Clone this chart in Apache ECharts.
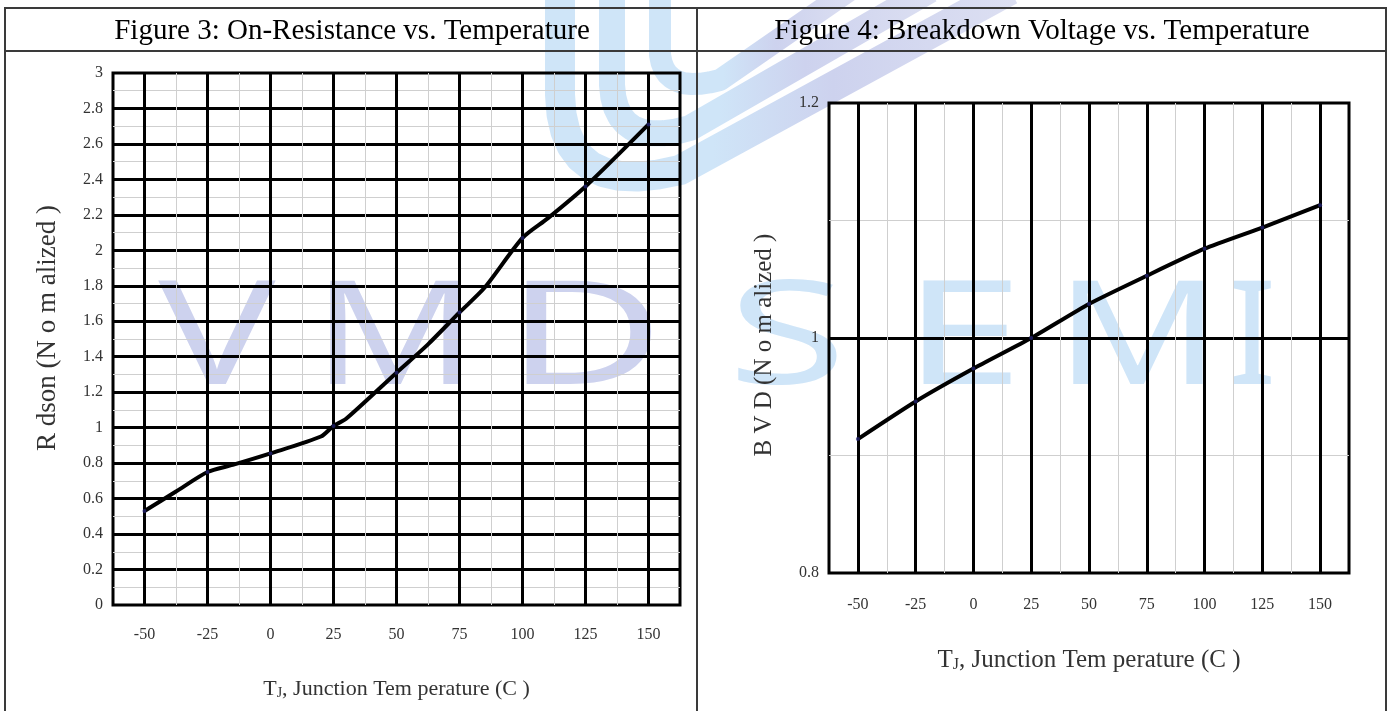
<!DOCTYPE html>
<html>
<head>
<meta charset="utf-8">
<script src="https://cdn.jsdelivr.net/npm/echarts@6/dist/echarts.min.js"></script>
<style>
  html,body{margin:0;padding:0;background:#fff;}
  #main{width:1391px;height:711px;}
</style>
</head>
<body>
<div id="main"></div>
<script>
  // tick labels on the temperature axis
  var tempTicks = [-50, -25, 0, 25, 50, 75, 100, 125, 150];
  // figure 3 : Rdson (normalized)
  var rdsonTemp = [-50, -37.5, -25, -15, 0, 20, 25, 30, 50, 62.5, 75, 85, 100, 110, 125, 150];
  var rdsonVal  = [0.53, 0.64, 0.75, 0.79, 0.855, 0.95, 1.01, 1.05, 1.31, 1.47, 1.65, 1.79, 2.07, 2.18, 2.36, 2.71];
  // figure 4 : BVD (normalized)
  var bvdTemp = [-50, -25, 0, 25, 50, 75, 100, 125, 150];
  var bvdVal  = [0.914, 0.946, 0.974, 1.0, 1.029, 1.053, 1.076, 1.094, 1.113];

  var titles = ['Figure 3: On-Resistance vs. Temperature', 'Figure 4: Breakdown Voltage vs. Temperature'];
  var yNames = ['R dson (N o m alized )', 'B V D (N o m alized )'];
  var xName = ', Junction Tem perature (C )';
  var wmLeft = ['V', 'M', 'D'];
  var wmRight = ['S', 'E', 'M', 'I'];

  var serif = '"Liberation Serif", "Times New Roman", serif';
  var minorGrey = '#cfcfcf';

  function pairs(xs, ys) {
    return xs.map(function (x, i) { return [x, ys[i]]; });
  }
  function onTicks(xs, ys) {
    return pairs(xs, ys).filter(function (p) { return tempTicks.indexOf(p[0]) >= 0; });
  }

  function xAxisFor(gi, gap, margin, fs) {
    return {
      gridIndex: gi,
      type: 'value',
      min: -62.5, max: 162.5, interval: 12.5,
      axisLine: {show: false},
      axisTick: {show: false},
      axisLabel: {
        margin: margin, fontSize: 16, color: '#333', fontFamily: serif,
        formatter: function (v) { return tempTicks.indexOf(v) >= 0 ? String(v) : ''; }
      },
      splitLine: {show: true, showMinLine: false, showMaxLine: false, lineStyle: {color: minorGrey, width: 1}},
      name: '{t|T}{j|J}{t|' + xName + '}',
      nameLocation: 'middle',
      nameGap: gap,
      nameTextStyle: {
        rich: {
          t: {fontSize: fs, fontFamily: serif, color: '#333'},
          j: {fontSize: Math.round(fs * 0.65), fontFamily: serif, color: '#333', verticalAlign: 'bottom'}
        }
      }
    };
  }

  function yAxisFor(gi, mn, mx, name, fs, pad) {
    return {
      gridIndex: gi,
      type: 'value',
      min: mn, max: mx, interval: 0.2,
      axisLine: {show: false},
      axisTick: {show: false},
      axisLabel: {margin: 10, fontSize: 16, color: '#333', fontFamily: serif},
      splitLine: {show: true, showMinLine: false, showMaxLine: false, lineStyle: {color: '#000', width: 3}},
      minorTick: {show: false, splitNumber: 2},
      minorSplitLine: {show: true, lineStyle: {color: minorGrey, width: 1}},
      name: name,
      nameLocation: 'middle',
      nameGap: 52,
      nameRotate: 90,
      nameTextStyle: {fontSize: fs, fontFamily: serif, color: '#333', padding: pad}
    };
  }

  function majorLines() {
    return {
      silent: true,
      symbol: ['none', 'none'],
      label: {show: false},
      emphasis: {disabled: true},
      lineStyle: {color: '#000', width: 3, type: 'solid'},
      data: tempTicks.map(function (t) { return {xAxis: t}; })
    };
  }

  function wmText(ch, x, color, sx) {
    return {
      type: 'text', x: x, y: 415, z: -10, scaleX: sx || 1,
      style: {text: ch, font: '145px "Noto Sans", sans-serif', fill: color, align: 'center', verticalAlign: 'bottom'}
    };
  }

  // one logo stripe: vertical stroke, rounded corner, then diagonal
  function stripe(x0, yTurn, cx, cy, ex, ey, x1, y1, w) {
    var pts = [[x0, 0], [x0, yTurn]];
    for (var i = 1; i <= 10; i++) {
      var t = i / 10;
      pts.push([
        (1 - t) * (1 - t) * x0 + 2 * (1 - t) * t * cx + t * t * ex,
        (1 - t) * (1 - t) * yTurn + 2 * (1 - t) * t * cy + t * t * ey
      ]);
    }
    pts.push([x1, y1]);
    return {
      type: 'polyline', z: -10, shape: {points: pts},
      style: {fill: null, stroke: new echarts.graphic.LinearGradient(0, 0, 1, 0, [
        {offset: 0, color: '#cfe5f8'}, {offset: 0.35, color: '#cfe5f8'}, {offset: 0.6, color: '#cdd2ee'}, {offset: 1, color: '#dde0f2'}
      ]), lineWidth: w, lineJoin: 'round'}
    };
  }

  var lav = '#cdd2ee';
  var blu = '#cfe5f8';

  var myChart = echarts.init(document.getElementById('main'));
  myChart.setOption({
    animation: false,
    backgroundColor: '#fff',
    graphic: [
      stripe(560, 95, 562, 200, 680, 170, 1010, -10, 30),
      stripe(612, 85, 615, 150, 690, 128, 930, -10, 26),
      stripe(660, 55, 665, 95, 720, 80, 850, -10, 22),
      wmText(wmLeft[0], 217, lav, 1.35),
      wmText(wmLeft[1], 395, lav, 1.25),
      wmText(wmLeft[2], 585, lav, 1.5),
      wmText(wmRight[0], 787, blu, 1.5),
      wmText(wmRight[1], 963, blu, 1.5),
      wmText(wmRight[2], 1138, blu, 1.25),
      wmText(wmRight[3], 1252, blu, 1),
      // table frame
      {type: 'rect', z: 50, shape: {x: 5, y: 8, width: 1381, height: 730}, style: {fill: null, stroke: '#3a3a3a', lineWidth: 2}},
      {type: 'line', z: 50, shape: {x1: 5, y1: 51, x2: 1386, y2: 51}, style: {stroke: '#3a3a3a', lineWidth: 2}},
      {type: 'line', z: 50, shape: {x1: 697, y1: 8, x2: 697, y2: 720}, style: {stroke: '#3a3a3a', lineWidth: 2}},
      // titles
      {type: 'text', z: 50, x: 352, y: 31, style: {text: titles[0], font: '29px ' + serif, fill: '#000', align: 'center', verticalAlign: 'middle'}},
      {type: 'text', z: 50, x: 1042, y: 31, style: {text: titles[1], font: '29px ' + serif, fill: '#000', align: 'center', verticalAlign: 'middle'}}
    ],
    grid: [
      {left: 113, right: 711, top: 73, bottom: 106, show: true, borderColor: '#000', borderWidth: 3, backgroundColor: 'transparent'},
      {left: 829, right: 42, top: 103, bottom: 138, show: true, borderColor: '#000', borderWidth: 3, backgroundColor: 'transparent'}
    ],
    xAxis: [xAxisFor(0, 73, 22, 22), xAxisFor(1, 75, 24, 25)],
    yAxis: [
      yAxisFor(0, 0, 3, yNames[0], 27, [0, 0, 0, 22]),
      yAxisFor(1, 0.8, 1.2, yNames[1], 25, [0, 14, 0, 0])
    ],
    series: [
      {
        type: 'line', xAxisIndex: 0, yAxisIndex: 0,
        data: pairs(rdsonTemp, rdsonVal),
        smooth: 0.25, showSymbol: false, z: 5,
        lineStyle: {color: '#000', width: 4},
        markLine: majorLines()
      },
      {
        type: 'scatter', xAxisIndex: 0, yAxisIndex: 0, z: 6,
        data: onTicks(rdsonTemp, rdsonVal),
        symbolSize: 4, itemStyle: {color: '#22226e'}
      },
      {
        type: 'line', xAxisIndex: 1, yAxisIndex: 1,
        data: pairs(bvdTemp, bvdVal),
        smooth: 0.2, showSymbol: false, z: 5,
        lineStyle: {color: '#000', width: 4},
        markLine: majorLines()
      },
      {
        type: 'scatter', xAxisIndex: 1, yAxisIndex: 1, z: 6,
        data: onTicks(bvdTemp, bvdVal),
        symbolSize: 4, itemStyle: {color: '#22226e'}
      }
    ]
  });
</script>
</body>
</html>
